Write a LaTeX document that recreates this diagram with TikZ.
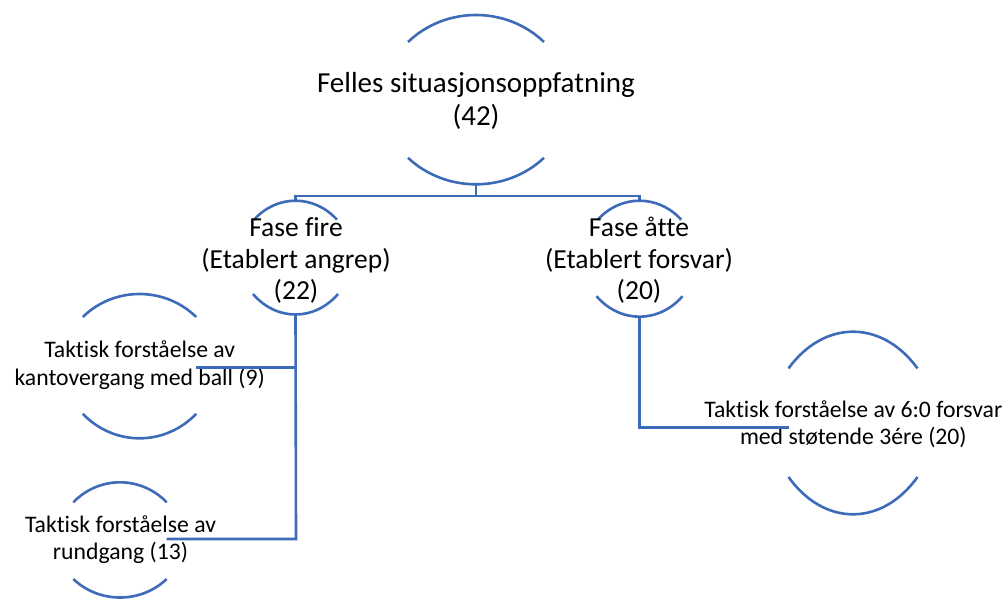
\documentclass[tikz,border=0pt]{standalone}
\usepackage{fontspec}
\setmainfont{Carlito}[Ligatures={NoCommon}]
\definecolor{linkblue}{HTML}{3E6BB8}
\tikzset{
  arcline/.style={draw=linkblue, line width=2.6pt},
  link/.style={draw=linkblue, line width=2.6pt},
  lvlone/.style={align=center, inner sep=0pt, font=\fontsize{29}{33.3}\selectfont},
  lvltwo/.style={align=center, inner sep=0pt, font=\fontsize{27.5}{31.5}\selectfont},
  lvlthree/.style={align=center, inner sep=0pt, font=\fontsize{23.7}{27.3}\selectfont},
}
% #1 name, #2 centre x, #3 top apex y, #4 top half chord, #5 top sag,
% #6 bottom apex y, #7 bottom half chord, #8 bottom sag
\newcommand\bubblearcs[8]{%
  \coordinate (#1-t) at (#2,#3);
  \coordinate (#1-b) at (#2,#6);
  \coordinate (#1-tl) at ({#2-#4},{#3+#5});
  \coordinate (#1-tr) at ({#2+#4},{#3+#5});
  \coordinate (#1-bl) at ({#2-#7},{#6-#8});
  \coordinate (#1-br) at ({#2+#7},{#6-#8});
  \draw[arcline] (#1-tl) .. controls ({#2-0.4477*#4},{#3-#5/3}) and ({#2+0.4477*#4},{#3-#5/3}) .. (#1-tr);
  \draw[arcline] (#1-bl) .. controls ({#2-0.4477*#7},{#6+#8/3}) and ({#2+0.4477*#7},{#6+#8/3}) .. (#1-br);
}
\begin{document}
\begin{tikzpicture}[x=1pt, y=-1pt]
\useasboundingbox (0,0) rectangle (1008,599);

% circle arcs around each item
\bubblearcs{top}{476}{15}{68}{27}{184.3}{68}{26.5}
\bubblearcs{ffire}{295.5}{200.7}{41.5}{19}{314.5}{42.5}{20.5}
\bubblearcs{fatte}{639.5}{200.7}{41.7}{19}{316.7}{43}{20.5}
\bubblearcs{kant}{139.5}{294}{56.7}{23}{438.3}{56.7}{24.5}
\bubblearcs{rund}{120}{482.3}{46.7}{20}{597.5}{46.7}{18.5}
\bubblearcs{seks}{853}{331.7}{64.5}{36.7}{514.3}{64.5}{37.3}

% labels
\node[lvlone]   (top)   at (476,101.1) {Felles situasjonsoppfatning\\(42)};
\node[lvltwo]   (ffire) at (296,260.5) {Fase fire\\(Etablert angrep)\\(22)};
\node[lvltwo]   (fatte) at (639,260.5) {Fase åtte\\(Etablert forsvar)\\(20)};
\node[lvlthree] (kant)  at (139.7,365.1) {Taktisk forståelse av\\kantovergang med ball (9)};
\node[lvlthree] (rund)  at (120.5,539.6) {Taktisk forståelse av\\rundgang (13)};
\node[lvlthree] (seks)  at (853.3,424.4) {Taktisk forståelse av 6:0 forsvar\\med støtende 3ére (20)};

% connectors
\coordinate (bus) at (476,196);
\draw[link] (top-b) -- (bus);
\draw[link] (ffire-t) |- (bus) -| (fatte-t);
\coordinate (kjoin) at (296,367.3);
\coordinate (rjoin) at (296,539);
\draw[link] (ffire-b) -- (rjoin) -- (rund-tr |- rjoin);
\draw[link] (kjoin) -- (kant-tr |- kjoin);
\coordinate (sjoin) at (639.5,427.3);
\draw[link] (fatte-b) -- (sjoin) -- (seks-tl |- sjoin);
\end{tikzpicture}
\end{document}
